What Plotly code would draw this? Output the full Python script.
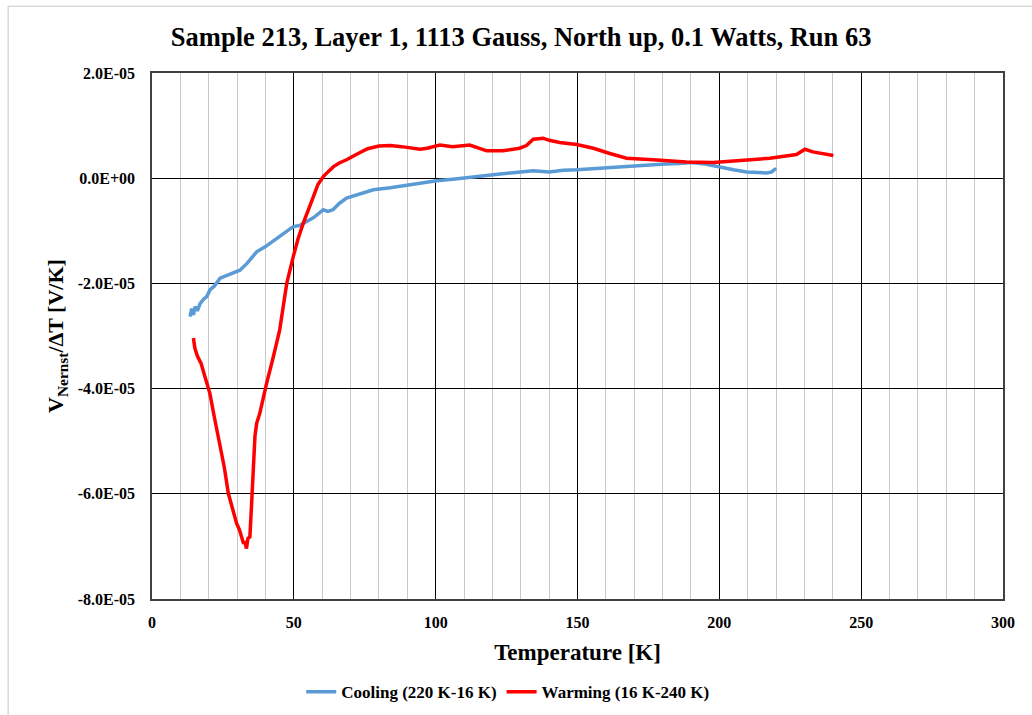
import plotly.graph_objects as go

# Cooling (220 K -> 16 K), temperature [K] and V/dT [1e-5 V/K]
cool_T = [13.4, 14.0, 14.6, 15.2, 16.0, 17.0, 18.2, 19.3, 20.5, 22.0, 24.0, 26.0, 28.0, 31.0,
          33.5, 36.9, 40.0, 44.0, 47.0, 49.8, 52.0, 54.5, 57.0, 60.4, 62.0, 63.8, 66.0, 68.6,
          72.0, 75.0, 78.0, 84.0, 89.8, 95.0, 100.3, 106.0, 113.0, 118.0, 122.7, 128.0,
          134.4, 140.0, 145.0, 149.7, 155.0, 161.0, 167.0, 175.0, 181.0, 186.0, 190.0,
          195.0, 200.0, 205.0, 209.6, 213.0, 216.7, 218.5, 220.0]
cool_V = [-2.63, -2.48, -2.60, -2.44, -2.52, -2.38, -2.30, -2.25, -2.12, -2.05, -1.90, -1.86,
          -1.82, -1.75, -1.62, -1.40, -1.30, -1.14, -1.02, -0.92, -0.90, -0.83, -0.75, -0.60,
          -0.63, -0.60, -0.48, -0.38, -0.32, -0.26, -0.22, -0.18, -0.13, -0.08, -0.05, -0.02,
          0.03, 0.05, 0.08, 0.10, 0.14, 0.12, 0.15, 0.16, 0.18, 0.20, 0.23, 0.25, 0.27, 0.28,
          0.30, 0.27, 0.21, 0.16, 0.12, 0.11, 0.10, 0.12, 0.19]

# Warming (16 K -> 240 K)
warm_T = [14.6, 15.1, 16.0, 17.3, 18.8, 20.4, 22.0, 23.9, 25.5, 26.9, 28.5, 29.8, 30.8, 31.6,
          32.3, 32.7, 33.3, 33.8, 34.5, 35.1, 35.7, 36.3, 36.9, 38.0, 40.4, 42.2, 42.8, 45.0,
          47.5, 49.8, 51.5, 53.3, 55.0, 56.9, 58.5, 60.4, 62.0, 64.0, 66.0, 68.6, 72.0, 76.0,
          80.0, 84.0, 88.0, 94.5, 97.0, 101.5, 106.0, 112.0, 118.0, 123.7, 129.6, 132.0,
          134.4, 137.9, 140.0, 143.7, 149.7, 155.6, 161.4, 167.3, 176.7, 188.4, 197.8,
          207.2, 217.8, 227.2, 230.2, 233.0, 236.5, 240.2]
warm_V = [-3.04, -3.23, -3.38, -3.52, -3.80, -4.09, -4.55, -5.04, -5.50, -5.99, -6.30, -6.56,
          -6.68, -6.82, -6.95, -6.90, -7.04, -6.85, -6.82, -6.20, -5.42, -4.90, -4.66, -4.47,
          -3.90, -3.46, -3.39, -2.89, -2.00, -1.49, -1.15, -0.86, -0.60, -0.35, -0.12, 0.03,
          0.12, 0.22, 0.29, 0.35, 0.45, 0.56, 0.61, 0.62, 0.60, 0.55, 0.57, 0.63, 0.60, 0.63,
          0.52, 0.52, 0.57, 0.62, 0.74, 0.76, 0.72, 0.68, 0.64, 0.57, 0.47, 0.38, 0.35, 0.31,
          0.30, 0.33, 0.38, 0.45, 0.55, 0.50, 0.47, 0.43]

y_tick_vals = [2e-5, 0, -2e-5, -4e-5, -6e-5, -8e-5]
y_tick_text = ["2.0E-05", "0.0E+00", "-2.0E-05", "-4.0E-05", "-6.0E-05", "-8.0E-05"]
x_tick_vals = [0, 50, 100, 150, 200, 250, 300]
x_tick_text = ["0", "50", "100", "150", "200", "250", "300"]

FONT = "Liberation Serif"

fig = go.Figure()
fig.add_trace(go.Scatter(x=cool_T, y=[v * 1e-5 for v in cool_V], mode="lines",
                         name="<b>Cooling (220 K-16 K)</b>",
                         line=dict(color="#5B9BD5", width=3.5)))
fig.add_trace(go.Scatter(x=warm_T, y=[v * 1e-5 for v in warm_V], mode="lines",
                         name="<b>Warming (16 K-240 K)</b>",
                         line=dict(color="#FF0000", width=3.5)))

fig.update_layout(
    width=1032, height=715,
    margin=dict(l=152, r=29, t=73, b=116),
    paper_bgcolor="white", plot_bgcolor="white",
    font=dict(family=FONT, color="black"),
    title=dict(text="<b>Sample 213, Layer 1, 1113 Gauss, North up, 0.1 Watts, Run 63</b>",
               x=0.505, xref="container", y=0.948, yref="container",
               xanchor="center", yanchor="middle",
               font=dict(family=FONT, size=26.5, color="black")),
    showlegend=True,
    legend=dict(orientation="h", x=0.492, xref="container", xanchor="center",
                y=0.032, yref="container", yanchor="middle",
                font=dict(family=FONT, size=17, color="black"),
                itemwidth=30, tracegroupgap=0),
    shapes=[
        dict(type="line", xref="paper", yref="paper", x0=-0.169, x1=-0.169, y0=-1, y1=1.127,
             line=dict(color="#D9D9D9", width=1.5)),
        dict(type="line", xref="paper", yref="paper", x0=-0.169, x1=1.2, y0=1.127, y1=1.127,
             line=dict(color="#D9D9D9", width=1.5)),
    ],
)

fig.update_xaxes(
    range=[0, 300], tickvals=x_tick_vals, ticktext=["<b>%s</b>" % t for t in x_tick_text],
    ticks="", ticklabelstandoff=8,
    showgrid=True, gridcolor="black", gridwidth=1,
    minor=dict(dtick=10, tick0=0, showgrid=True, gridcolor="#C8C8C8", gridwidth=1),
    showline=True, linecolor="#404040", linewidth=1.5, mirror=True,
    zeroline=False,
    tickfont=dict(family=FONT, size=16, color="black"),
    title=dict(text="<b>Temperature [K]</b>", font=dict(family=FONT, size=23, color="black"),
               standoff=14),
)
fig.update_yaxes(
    range=[-8e-5, 2e-5], tickvals=y_tick_vals, ticktext=["<b>%s</b>" % t for t in y_tick_text],
    ticks="", ticklabelstandoff=12,
    showgrid=True, gridcolor="black", gridwidth=1,
    showline=True, linecolor="#404040", linewidth=1.5, mirror=True,
    zeroline=False,
    tickfont=dict(family=FONT, size=16, color="black"),
    title=dict(text="<b>V<sub>Nernst</sub>/ΔT [V/K]</b>",
               font=dict(family=FONT, size=22, color="black"), standoff=8),
)

fig.write_html("out.html")
